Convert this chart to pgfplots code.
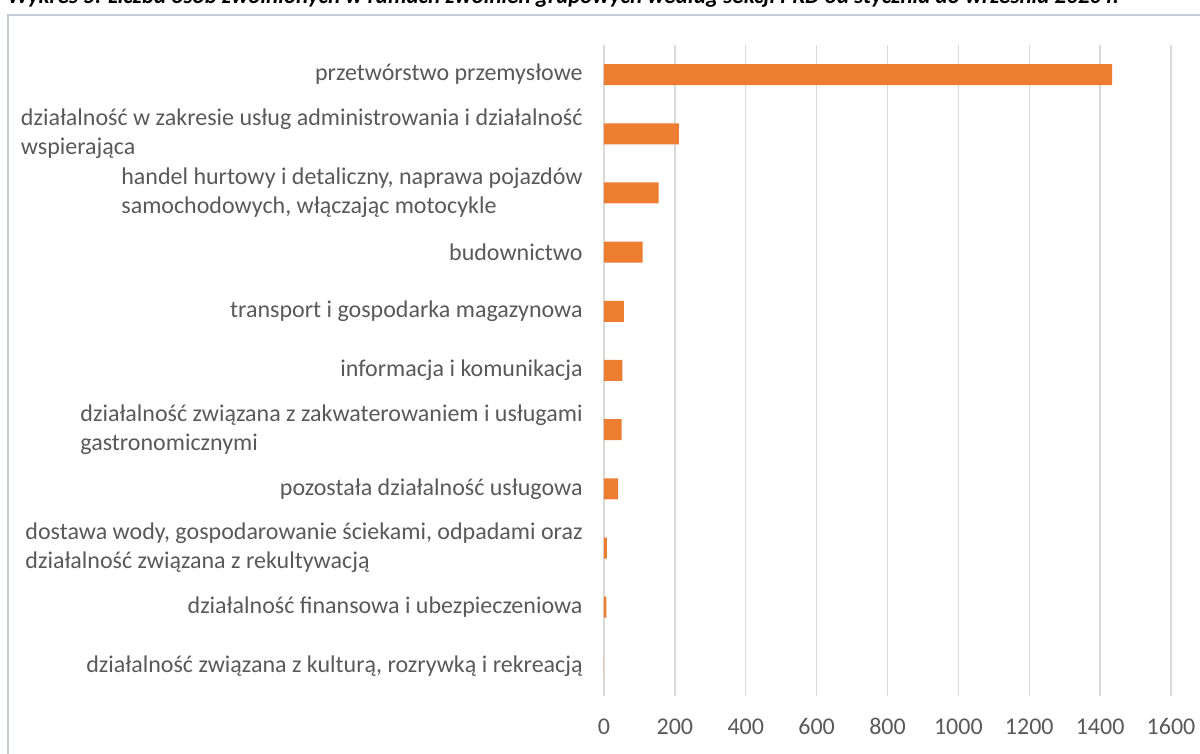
\documentclass[border=0pt]{standalone}
\usepackage{pgfplots}
\pgfplotsset{compat=1.18}
\usepackage{fontspec}
\setmainfont{Carlito}
\definecolor{barc}{HTML}{ED7D31}
\definecolor{gridc}{HTML}{D9D9D9}
\definecolor{txtc}{HTML}{595959}
\definecolor{framec}{HTML}{C5CBD6}
\begin{document}
\begin{tikzpicture}
\path[use as bounding box] (0,0) rectangle (600pt,377pt);
\draw[framec, line width=1pt] (4pt,-10pt) rectangle (620pt,369.5pt);
\node[anchor=base west, inner sep=0pt, font=\fontsize{11.5}{13}\selectfont\bfseries\itshape] at (3.5pt,375.2pt)
 {Wykres 5. Liczba osób zwolnionych w ramach zwolnień grupowych według sekcji PKD od stycznia do września 2020 r.};
\begin{axis}[
  at={(302pt,29pt)}, anchor=south west,
  scale only axis,
  width=283.5pt, height=325.5pt,
  xbar, bar width=10.5pt,
  xmin=0, xmax=1600,
  ymin=-0.5, ymax=10.5,
  y dir=reverse,
  xtick={0,200,...,1600},
  ytick={0,...,10},
  yticklabels={
    przetwórstwo przemysłowe,
    {działalność w zakresie usług administrowania i działalność\\wspierająca},
    {handel hurtowy i detaliczny, naprawa pojazdów\\samochodowych, włączając motocykle},
    budownictwo,
    transport i gospodarka magazynowa,
    informacja i komunikacja,
    {działalność związana z zakwaterowaniem i usługami\\gastronomicznymi},
    pozostała działalność usługowa,
    {dostawa wody, gospodarowanie ściekami, odpadami oraz\\działalność związana z rekultywacją},
    działalność finansowa i ubezpieczeniowa,
    {działalność związana z kulturą, rozrywką i rekreacją}},
  yticklabel style={anchor=east, align=left, inner sep=0pt, xshift=-10.5pt,
     font=\fontsize{12}{14.5}\selectfont, text=txtc},
  xticklabel style={font=\fontsize{12}{14}\selectfont, text=txtc, inner sep=0pt, anchor=base, yshift=-19pt},
  /pgf/number format/assume math mode=true,
  /pgf/number format/1000 sep={},
  major tick length=0pt,
  xmajorgrids, grid style={gridc, line width=0.75pt},
  axis line style={draw=none},
  axis x line*=bottom, axis y line*=left,
]
\addplot[fill=barc, draw=none] coordinates {
 (1434,0) (211,1) (154,2) (109,3) (56,4) (52,5) (50,6) (40,7) (8,8) (7,9) (0,10)};
\end{axis}
\end{tikzpicture}
\end{document}
